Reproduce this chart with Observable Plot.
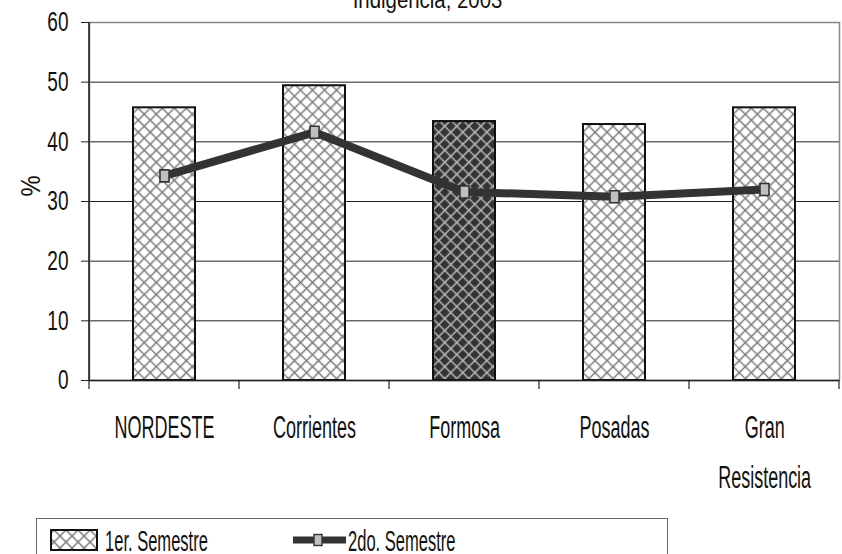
<!DOCTYPE html>
<html><head><meta charset="utf-8">
<script src="https://cdn.jsdelivr.net/npm/d3@7"></script>
<script src="https://cdn.jsdelivr.net/npm/@observablehq/plot@0.6"></script>
<style>
html,body{margin:0;padding:0;background:#fff;overflow:hidden;}
body{width:842px;height:554px;position:relative;font-family:"Liberation Sans",Arial,sans-serif;}
#legend{position:absolute;left:36px;top:518px;}
</style></head><body><div id="chart"></div><div id="legend"></div>
<script>
const categories = ["NORDESTE", "Corrientes", "Formosa", "Posadas", "Gran Resistencia"];
const sem1 = [45.7, 49.4, 43.4, 42.9, 45.7];
const sem2 = [34.3, 41.6, 31.6, 30.8, 32.0];
const seriesNames = ["1er. Semestre", "2do. Semestre"];
const yTicks = [0, 10, 20, 30, 40, 50, 60];
const highlighted = "Formosa";
const title = "Indigencia, 2003";
const yLabel = "%";

const FONT = '"Liberation Sans", Arial, sans-serif';
const data = categories.map((c, i) => ({cat: c, s1: sem1[i], s2: sem2[i]}));

const rectSymbol = {
  draw(context, size) {
    const s = Math.sqrt(size);
    const w = s * 0.85, h = s * 1.13;
    context.rect(-w / 2, -h / 2, w, h);
  }
};

const boundaryTicks = (index, scales, values, dims) => {
  const x = scales.x;
  const bw = typeof x.bandwidth === "function" ? x.bandwidth() : scales.scales.x.bandwidth;
  const step = x(categories[1]) - x(categories[0]);
  const y0 = scales.y(0), yTop = scales.y(60);
  const edges = categories.map(c => x(c) - (step - bw) / 2);
  edges.push(x(categories[categories.length - 1]) + bw + (step - bw) / 2);
  const g = d3.create("svg:g").attr("stroke", "#222").attr("stroke-width", 1.2);
  g.append("line").attr("x1", edges[0]).attr("x2", edges[0]).attr("y1", yTop).attr("y2", y0).attr("stroke-width", 1.6);
  for (const e of edges) g.append("line").attr("x1", e).attr("x2", e).attr("y1", y0).attr("y2", y0 + 9);
  return g.node();
};

const plot = Plot.plot({
  width: 842, height: 510,
  marginLeft: 89, marginRight: 3, marginTop: 22, marginBottom: 130,
  style: {fontFamily: FONT, background: "#fff", color: "#111", overflow: "visible"},
  x: {domain: categories, paddingInner: 0.587, paddingOuter: 0.2935},
  y: {domain: [0, 60]},
  color: {type: "identity"},
  marks: [
    Plot.ruleY(yTicks.filter(t => t > 0 && t < 60), {stroke: "#222", strokeWidth: 1}),
    Plot.frame({stroke: "#888", strokeWidth: 1.5}),
    Plot.barY(data, {x: "cat", y: "s1", fill: d => d.cat === highlighted ? "url(#hatchDark)" : "url(#hatchLight)", stroke: "#111", strokeWidth: 2}),
    Plot.ruleY([0], {stroke: "#222", strokeWidth: 1.5}),
    boundaryTicks,
    Plot.line(data, {x: "cat", y: "s2", stroke: "#333", strokeWidth: 8}),
    Plot.dot(data, {x: "cat", y: "s2", symbol: rectSymbol, r: 6, fill: "#c0c0c0", stroke: "#333", strokeWidth: 1.6}),
    Plot.axisY({ticks: yTicks, tickSize: 8, tickPadding: 13, fontSize: 28, label: null, stroke: "#222"}),
    Plot.axisX({tickSize: 0, tickPadding: 22, fontSize: 31, lineHeight: 1.61, tickFormat: d => d.replace(" ", "\n"), label: null}),
    Plot.text([title], {frameAnchor: "top", dx: -37, dy: -32, fontSize: 24, fill: "#111"}),
    Plot.text([yLabel], {frameAnchor: "left", dx: -58, dy: -5, rotate: -90, fontSize: 28, fill: "#111"})
  ]
});

// patterns
const defs = d3.select(plot).insert("defs", ":first-child");
function addPattern(id, bg, fg) {
  const s = 8.5;
  const p = defs.append("pattern").attr("id", id).attr("patternUnits", "userSpaceOnUse")
    .attr("width", s).attr("height", s).attr("patternTransform", "rotate(45)");
  p.append("rect").attr("width", s).attr("height", s).attr("fill", bg);
  p.append("path").attr("d", `M0,${s/2}H${s}M${s/2},0V${s}`).attr("stroke", fg).attr("stroke-width", 1.5);
}
addPattern("hatchLight", "#fff", "#7a7a7a");
addPattern("hatchDark", "#333", "#bbb");

document.getElementById("chart").appendChild(plot);

// narrow the glyphs horizontally around each text's own anchor point
function squeeze(nodes, sx) {
  nodes.each(function() {
    const bb = this.getBBox();
    const anchor = getComputedStyle(this).textAnchor;
    const ax = anchor === "end" ? bb.x + bb.width : anchor === "middle" ? bb.x + bb.width / 2 : bb.x;
    const t = this.getAttribute("transform") || "";
    this.setAttribute("transform", `${t} translate(${ax},0) scale(${sx},1) translate(${-ax},0)`);
  });
}
const ps = d3.select(plot);
squeeze(ps.selectAll('g[aria-label="y-axis tick label"] text'), 0.68);
squeeze(ps.selectAll('g[aria-label="x-axis tick label"] text'), 0.58);
squeeze(ps.selectAll('g[aria-label="text"] text'), 0.85);

// legend
const lg = d3.select("#legend").append("svg").attr("width", 634).attr("height", 40)
  .style("font-family", FONT).style("display", "block");
const ld = lg.append("defs");
{
  const s = 8.5;
  const p = ld.append("pattern").attr("id", "hatchLegend").attr("patternUnits", "userSpaceOnUse")
    .attr("width", s).attr("height", s).attr("patternTransform", "rotate(45)");
  p.append("rect").attr("width", s).attr("height", s).attr("fill", "#fff");
  p.append("path").attr("d", `M0,${s/2}H${s}M${s/2},0V${s}`).attr("stroke", "#7a7a7a").attr("stroke-width", 1.4);
}
lg.append("rect").attr("x", 0.5).attr("y", 0.5).attr("width", 631).attr("height", 60)
  .attr("fill", "#fff").attr("stroke", "#666").attr("stroke-width", 1);
lg.append("rect").attr("x", 15).attr("y", 12).attr("width", 46).attr("height", 20)
  .attr("fill", "url(#hatchLegend)").attr("stroke", "#111").attr("stroke-width", 2);
lg.append("text").attr("transform", "translate(69,33) scale(0.57,1)").attr("font-size", 29).attr("fill", "#111").text(seriesNames[0]);
lg.append("line").attr("x1", 257).attr("x2", 310).attr("y1", 22).attr("y2", 22).attr("stroke", "#333").attr("stroke-width", 7);
lg.append("rect").attr("x", 278).attr("y", 16.5).attr("width", 8).attr("height", 11)
  .attr("fill", "#c0c0c0").attr("stroke", "#333").attr("stroke-width", 1.4);
lg.append("text").attr("transform", "translate(312,33) scale(0.57,1)").attr("font-size", 29).attr("fill", "#111").text(seriesNames[1]);
</script></body></html>
